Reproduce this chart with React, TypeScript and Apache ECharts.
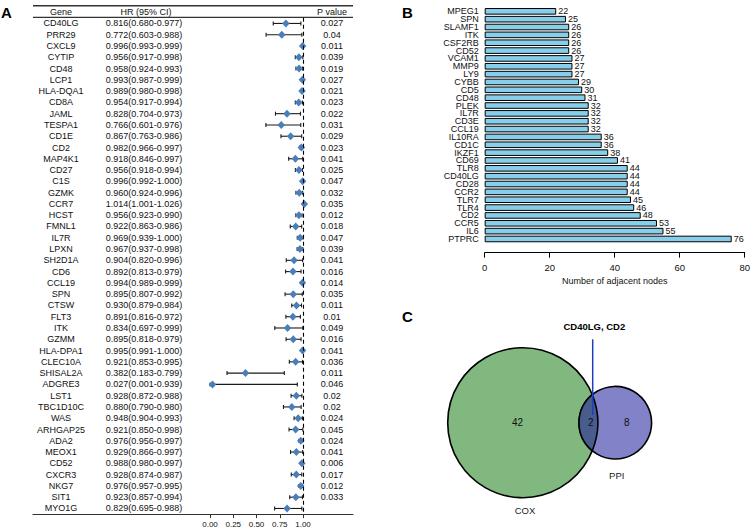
import React, { useEffect, useRef } from "react";
import * as echarts from "echarts";

// ---------- Panel A: forest plot data ----------
const genes = [
  "CD40LG", "PRR29", "CXCL9", "CYTIP", "CD48", "LCP1", "HLA-DQA1", "CD8A", "JAML", "TESPA1",
  "CD1E", "CD2", "MAP4K1", "CD27", "C1S", "GZMK", "CCR7", "HCST", "FMNL1", "IL7R",
  "LPXN", "SH2D1A", "CD6", "CCL19", "SPN", "CTSW", "FLT3", "ITK", "GZMM", "HLA-DPA1",
  "CLEC10A", "SHISAL2A", "ADGRE3", "LST1", "TBC1D10C", "WAS", "ARHGAP25", "ADA2", "MEOX1", "CD52",
  "CXCR3", "NKG7", "SIT1", "MYO1G",
];
const hr = [
  0.816, 0.772, 0.996, 0.956, 0.958, 0.993, 0.989, 0.954, 0.828, 0.766,
  0.867, 0.982, 0.918, 0.956, 0.996, 0.960, 1.014, 0.956, 0.922, 0.969,
  0.967, 0.904, 0.892, 0.994, 0.895, 0.930, 0.891, 0.834, 0.895, 0.995,
  0.921, 0.382, 0.027, 0.928, 0.880, 0.948, 0.921, 0.976, 0.929, 0.988,
  0.928, 0.976, 0.923, 0.829,
];
const lo = [
  0.680, 0.603, 0.993, 0.917, 0.924, 0.987, 0.980, 0.917, 0.704, 0.601,
  0.763, 0.966, 0.846, 0.918, 0.992, 0.924, 1.001, 0.923, 0.863, 0.939,
  0.937, 0.820, 0.813, 0.989, 0.807, 0.879, 0.816, 0.697, 0.818, 0.991,
  0.853, 0.183, 0.001, 0.872, 0.790, 0.904, 0.850, 0.956, 0.866, 0.980,
  0.874, 0.957, 0.857, 0.695,
];
const hi = [
  0.977, 0.988, 0.999, 0.998, 0.993, 0.999, 0.998, 0.994, 0.973, 0.976,
  0.986, 0.997, 0.997, 0.994, 1.000, 0.996, 1.026, 0.990, 0.986, 1.000,
  0.998, 0.996, 0.979, 0.999, 0.992, 0.984, 0.972, 0.999, 0.979, 1.000,
  0.995, 0.799, 0.939, 0.988, 0.980, 0.993, 0.998, 0.997, 0.997, 0.997,
  0.987, 0.995, 0.994, 0.988,
];
const pvals = [
  "0.027", "0.04", "0.011", "0.039", "0.019", "0.027", "0.021", "0.023", "0.022", "0.031",
  "0.029", "0.023", "0.041", "0.025", "0.047", "0.032", "0.035", "0.012", "0.018", "0.047",
  "0.039", "0.041", "0.016", "0.014", "0.035", "0.011", "0.01", "0.049", "0.016", "0.041",
  "0.036", "0.011", "0.046", "0.02", "0.02", "0.024", "0.045", "0.024", "0.041", "0.006",
  "0.017", "0.012", "0.033", "",
];
const forestTicks = [0, 0.25, 0.5, 0.75, 1];
const tableHeaders = ["Gene", "HR (95% CI)", "P value"];

// ---------- Panel B: PPI degree ----------
const ppiGenes = [
  "MPEG1", "SPN", "SLAMF1", "ITK", "CSF2RB", "CD52", "VCAM1", "MMP9", "LY9", "CYBB",
  "CD5", "CD48", "PLEK", "IL7R", "CD3E", "CCL19", "IL10RA", "CD1C", "IKZF1", "CD69",
  "TLR8", "CD40LG", "CD28", "CCR2", "TLR7", "TLR4", "CD2", "CCR5", "IL6", "PTPRC",
];
const ppiDegree = [
  22, 25, 26, 26, 26, 26, 27, 27, 27, 29,
  30, 31, 32, 32, 32, 32, 36, 36, 38, 41,
  44, 44, 44, 44, 45, 46, 48, 53, 55, 76,
];
const ppiAxisName = "Number of adjacent nodes";

// ---------- Panel C: Venn ----------
const vennSets = ["COX", "PPI"];
const vennCounts = [42, 2, 8]; // COX only, shared, PPI only
const vennShared = "CD40LG, CD2";

// ---------- Venn geometry ----------
const cyV = 422.7;
const cx1 = 522.7;
const r1 = 75;
const cx2 = 615.3;
const r2 = 36.3;
const dC = cx2 - cx1;
const aC = (dC * dC - r2 * r2 + r1 * r1) / (2 * dC);
const hC = Math.sqrt(r1 * r1 - aC * aC);
const ixC = cx1 + aC;
const lensD = `M${ixC},${cyV - hC} A${r1},${r1} 0 0 1 ${ixC},${cyV + hC} A${r2},${r2} 0 0 1 ${ixC},${cyV - hC} Z`;
echarts.graphic.registerShape("vennLens", echarts.graphic.extendPath(lensD, {}));

const FONT = "'Liberation Sans', Arial, Helvetica, sans-serif";
const INK = "#111";

// Forest grid geometry: x 33..353, 0 -> 210, 1 -> 303 (93 px / unit)
const fLeft = 33;
const fRight = 353;
const fZero = 210;
const pxPerUnit = 93;
const fMin = (fLeft - fZero) / pxPerUnit;
const fMax = (fRight - fZero) / pxPerUnit;

function txt(text: string, x: number, y: number, size: number, opts: any = {}) {
  return {
    type: "text",
    x,
    y,
    silent: true,
    style: {
      text,
      fill: opts.fill || INK,
      fontSize: size,
      fontFamily: FONT,
      fontWeight: opts.bold ? "bold" : "normal",
      align: opts.align || "center",
      textAlign: opts.align || "center",
      verticalAlign: "middle",
      textVerticalAlign: "middle",
    },
  };
}

function buildOption(): any {
  const graphics: any[] = [
    txt("A", 1, 12, 15, { bold: true, align: "left", fill: "#000" }),
    txt("B", 402, 12, 15, { bold: true, align: "left", fill: "#000" }),
    txt("C", 402, 316, 15, { bold: true, align: "left", fill: "#000" }),
    {
      type: "line",
      silent: true,
      shape: { x1: fLeft, y1: 5.7, x2: fRight, y2: 5.7 },
      style: { stroke: "#333", lineWidth: 1.6 },
    },
    {
      type: "line",
      silent: true,
      shape: { x1: fLeft, y1: 17.3, x2: fRight, y2: 17.3 },
      style: { stroke: "#333", lineWidth: 1.2 },
    },
    txt(tableHeaders[0], 61, 11.8, 9),
    txt(tableHeaders[1], 146, 11.8, 9),
    txt(tableHeaders[2], 332, 11.8, 9),
    // Venn
    {
      type: "circle",
      silent: true,
      shape: { cx: cx1, cy: cyV, r: r1 },
      style: { fill: "#80b880", stroke: "#000", lineWidth: 1.6 },
    },
    {
      type: "circle",
      silent: true,
      shape: { cx: cx2, cy: cyV, r: r2 },
      style: { fill: "#8282c8", stroke: "#000", lineWidth: 1.6 },
    },
    {
      type: "vennLens",
      silent: true,
      x: 0,
      y: 0,
      style: { fill: "#485c8e", stroke: "#000", lineWidth: 1.6 },
    },
    txt(String(vennCounts[0]), 517.5, 422.5, 10),
    txt(String(vennCounts[1]), 590.7, 422.5, 10),
    txt(String(vennCounts[2]), 626.7, 422.5, 10),
    txt(vennSets[0], 525, 510, 9.5, { fill: "#222" }),
    txt(vennSets[1], 616.7, 475.7, 9.5, { fill: "#222" }),
    {
      type: "line",
      silent: true,
      shape: { x1: 592.7, y1: 339.3, x2: 592.7, y2: 415 },
      style: { stroke: "#1f3fbf", lineWidth: 1.5 },
    },
    txt(vennShared, 594.3, 326.7, 9.5, { bold: true, fill: "#000" }),
  ];

  const catAxisBase = {
    type: "category",
    gridIndex: 0,
    data: genes,
    inverse: true,
    axisLine: { show: false },
    axisTick: { show: false },
    splitLine: { show: false },
  };

  return {
    animation: false,
    backgroundColor: "#fff",
    textStyle: { fontFamily: FONT },
    grid: [
      { left: fLeft, right: 753 - fRight, top: 17.8, height: 496.3, containLabel: false },
      { left: 484.7, right: 753 - 747.7, top: 7.4, height: 235.5, containLabel: false },
    ],
    xAxis: [
      {
        type: "value",
        gridIndex: 0,
        min: fMin,
        max: fMax,
        splitLine: { show: false },
        axisLine: { show: true, lineStyle: { color: "#333", width: 1.2 } },
        axisTick: { show: true, customValues: forestTicks, length: 4, lineStyle: { color: "#333" } },
        axisLabel: {
          show: true,
          customValues: forestTicks,
          formatter: (v: number) => v.toFixed(2),
          fontSize: 8,
          margin: 6,
          color: INK,
          fontFamily: FONT,
        },
      },
      {
        type: "value",
        gridIndex: 1,
        min: 0,
        max: 80,
        interval: 20,
        offset: 9.8,
        splitLine: { show: false },
        axisLine: { show: true, lineStyle: { color: "#000", width: 1 } },
        axisTick: { show: true, length: 5, lineStyle: { color: "#000" } },
        axisLabel: { fontSize: 9.5, margin: 10, color: INK, fontFamily: FONT },
        name: ppiAxisName,
        nameLocation: "middle",
        nameGap: 24,
        nameTextStyle: { fontSize: 9, color: INK, fontFamily: FONT },
      },
    ],
    yAxis: [
      {
        ...catAxisBase,
        position: "left",
        offset: -(61 - fLeft),
        axisLabel: { interval: 0, align: "center", margin: 0, fontSize: 9, color: INK, fontFamily: FONT },
      },
      {
        ...catAxisBase,
        position: "left",
        offset: -(144 - fLeft),
        axisLabel: {
          interval: 0,
          align: "center",
          margin: 0,
          fontSize: 9,
          color: INK,
          fontFamily: FONT,
          formatter: (_v: string, i: number) =>
            `${hr[i].toFixed(3)}(${lo[i].toFixed(3)}-${hi[i].toFixed(3)})`,
        },
      },
      {
        ...catAxisBase,
        position: "right",
        offset: -(fRight - 332),
        axisLabel: {
          interval: 0,
          align: "center",
          margin: 0,
          fontSize: 9,
          color: INK,
          fontFamily: FONT,
          formatter: (_v: string, i: number) => pvals[i],
        },
      },
      {
        type: "category",
        gridIndex: 1,
        data: ppiGenes,
        inverse: true,
        axisLine: { show: false },
        axisTick: { show: false },
        splitLine: { show: false },
        axisLabel: { interval: 0, fontSize: 9, lineHeight: 8, margin: 6, color: INK, fontFamily: FONT },
      },
    ],
    series: [
      {
        type: "custom",
        xAxisIndex: 0,
        yAxisIndex: 0,
        silent: true,
        data: genes.map((_g, i) => [lo[i], hi[i], i]),
        encode: { x: [0, 1], y: 2 },
        renderItem: (_params: any, api: any) => {
          const y = api.value(2);
          const p1 = api.coord([api.value(0), y]);
          const p2 = api.coord([api.value(1), y]);
          const c = 2;
          const style = { stroke: "#1a1a1a", lineWidth: 1.1 };
          return {
            type: "group",
            children: [
              { type: "line", shape: { x1: p1[0], y1: p1[1], x2: p2[0], y2: p2[1] }, style },
              { type: "line", shape: { x1: p1[0], y1: p1[1] - c, x2: p1[0], y2: p1[1] + c }, style },
              { type: "line", shape: { x1: p2[0], y1: p2[1] - c, x2: p2[0], y2: p2[1] + c }, style },
            ],
          };
        },
        z: 3,
      },
      {
        type: "scatter",
        xAxisIndex: 0,
        yAxisIndex: 0,
        silent: true,
        symbol: "diamond",
        symbolSize: [7.5, 8],
        itemStyle: { color: "#4a7ebb", opacity: 1 },
        data: genes.map((_g, i) => [hr[i], i]),
        z: 4,
        markLine: {
          silent: true,
          symbol: "none",
          label: { show: false },
          lineStyle: { type: [4, 3], color: "#000", width: 1.1 },
          data: [{ xAxis: 1 }],
        },
      },
      {
        type: "bar",
        xAxisIndex: 1,
        yAxisIndex: 3,
        silent: true,
        barWidth: 6.6,
        data: ppiDegree,
        itemStyle: { color: "#87CEEB", borderColor: "#000", borderWidth: 1 },
        label: {
          show: true,
          position: "right",
          distance: 2,
          fontSize: 9,
          lineHeight: 8,
          color: INK,
          fontFamily: FONT,
        },
      },
    ],
    graphic: graphics,
  };
}

export default function App() {
  const ref = useRef<HTMLDivElement>(null);
  useEffect(() => {
    if (!ref.current) return;
    const chart = echarts.init(ref.current, null, { renderer: "svg" });
    chart.setOption(buildOption());
    return () => chart.dispose();
  }, []);
  return (
    <div
      ref={ref}
      style={{ position: "fixed", left: 0, top: 0, width: 753, height: 529, background: "#fff" }}
    />
  );
}
